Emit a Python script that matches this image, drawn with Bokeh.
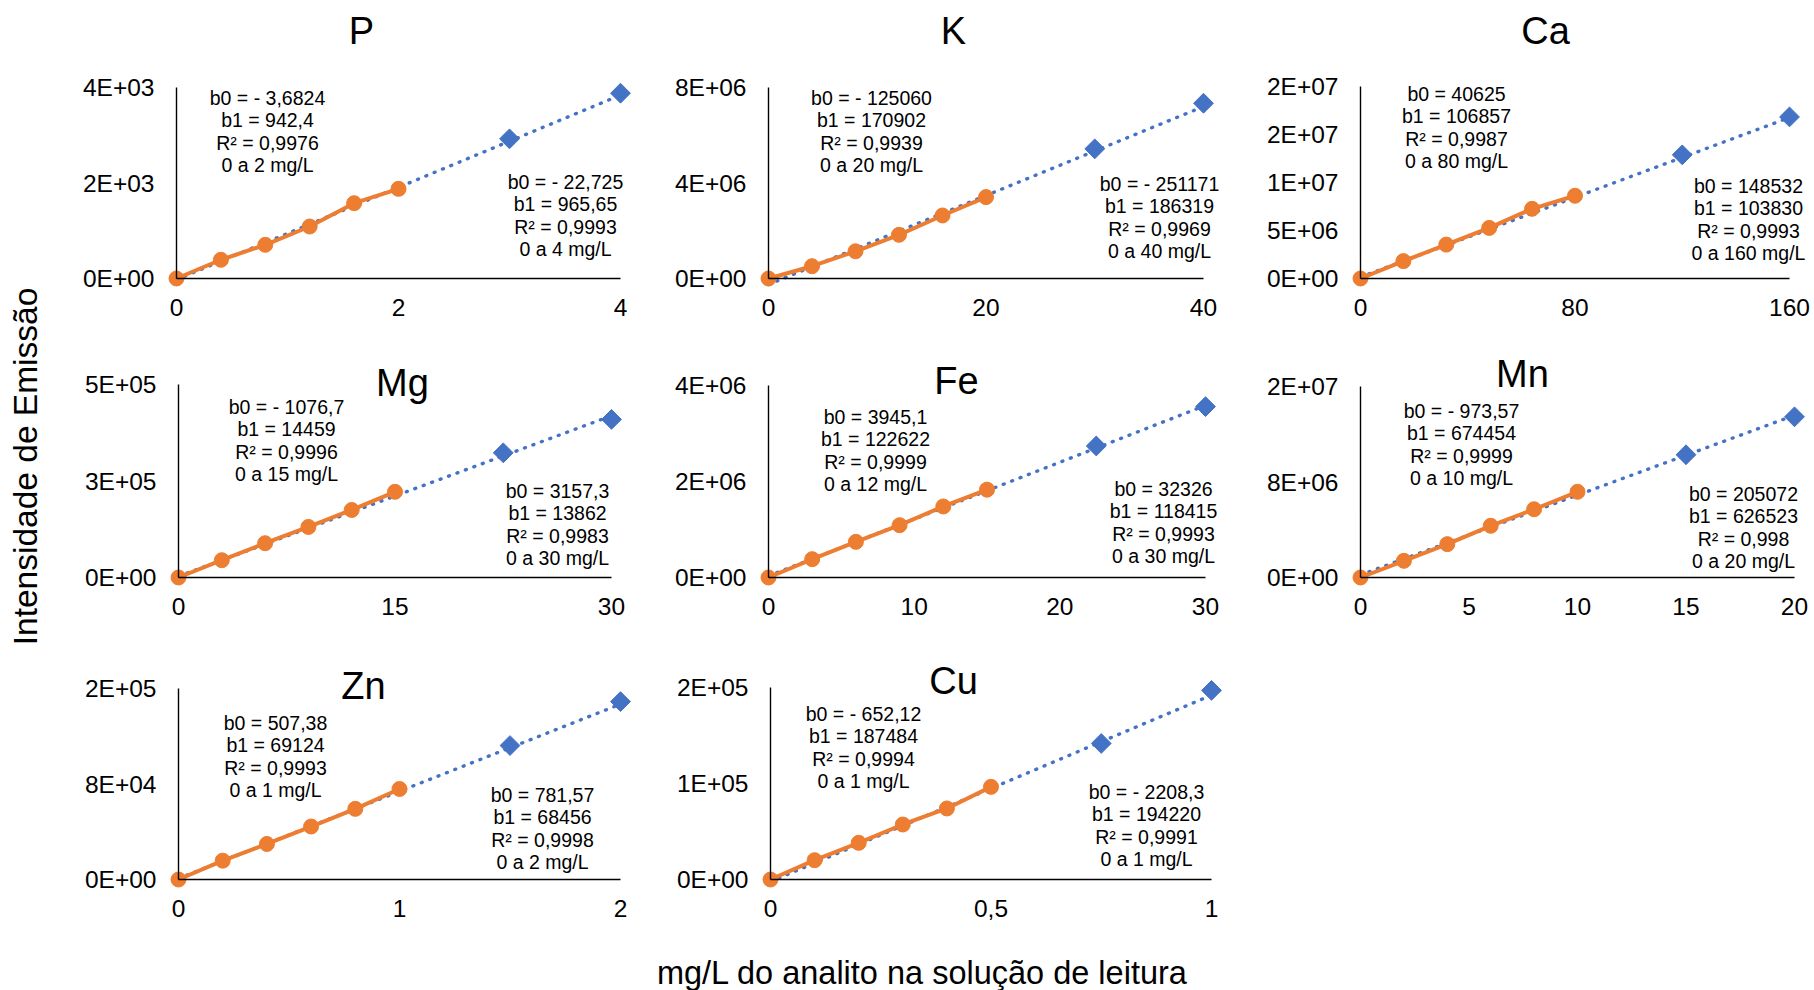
import math
from bokeh.plotting import figure
from bokeh.models import Range1d, FixedTicker, Label
from bokeh.layouts import row, column
from bokeh.embed import file_html
from bokeh.resources import INLINE

# ------------------------------------------------------------------ data
P_x = [0, 0.4, 0.8, 1.2, 1.6, 2.0]
P_y = [0, 392, 706, 1089, 1577, 1878]
P_x_ext = [3, 4]
P_y_ext = [2925, 3880]
P_b0 = [-3.6824, -22.725]
P_b1 = [942.4, 965.65]
P_r2 = ["0,9976", "0,9993"]
P_range = ["0 a 2 mg/L", "0 a 4 mg/L"]
P_xticks = [0, 2, 4]
P_xlabels = ["0", "2", "4"]
P_yticks = [0, 2000, 4000]
P_ylabels = ["0E+00", "2E+03", "4E+03"]

K_x = [0, 4, 8, 12, 16, 20]
K_y = [0, 515000, 1140000, 1830000, 2640000, 3410000]
K_x_ext = [30, 40]
K_y_ext = [5430000, 7340000]
K_b0 = [-125060, -251171]
K_b1 = [170902, 186319]
K_r2 = ["0,9939", "0,9969"]
K_range = ["0 a 20 mg/L", "0 a 40 mg/L"]
K_xticks = [0, 20, 40]
K_xlabels = ["0", "20", "40"]
K_yticks = [0, 4000000, 8000000]
K_ylabels = ["0E+00", "4E+06", "8E+06"]

Ca_x = [0, 16, 32, 48, 64, 80]
Ca_y = [0, 1810000, 3530000, 5270000, 7260000, 8620000]
Ca_x_ext = [120, 160]
Ca_y_ext = [12880000, 16830000]
Ca_b0 = [40625, 148532]
Ca_b1 = [106857, 103830]
Ca_r2 = ["0,9987", "0,9993"]
Ca_range = ["0 a 80 mg/L", "0 a 160 mg/L"]
Ca_xticks = [0, 80, 160]
Ca_xlabels = ["0", "80", "160"]
Ca_yticks = [0, 5000000, 10000000, 15000000, 20000000]
Ca_ylabels = ["0E+00", "5E+06", "1E+07", "2E+07", "2E+07"]

Mg_x = [0, 3, 6, 9, 12, 15]
Mg_y = [0, 44800, 88800, 131000, 175000, 222000]
Mg_x_ext = [22.5, 30]
Mg_y_ext = [323000, 409600]
Mg_b0 = [-1076.7, 3157.3]
Mg_b1 = [14459, 13862]
Mg_r2 = ["0,9996", "0,9983"]
Mg_range = ["0 a 15 mg/L", "0 a 30 mg/L"]
Mg_xticks = [0, 15, 30]
Mg_xlabels = ["0", "15", "30"]
Mg_yticks = [0, 250000, 500000]
Mg_ylabels = ["0E+00", "3E+05", "5E+05"]

Fe_x = [0, 3, 6, 9, 12, 15]
Fe_y = [0, 382000, 743000, 1090000, 1480000, 1830000]
Fe_x_ext = [22.5, 30]
Fe_y_ext = [2740000, 3560000]
Fe_b0 = [3945.1, 32326]
Fe_b1 = [122622, 118415]
Fe_r2 = ["0,9999", "0,9993"]
Fe_range = ["0 a 12 mg/L", "0 a 30 mg/L"]
Fe_xticks = [0, 10, 20, 30]
Fe_xlabels = ["0", "10", "20", "30"]
Fe_yticks = [0, 2000000, 4000000]
Fe_ylabels = ["0E+00", "2E+06", "4E+06"]

Mn_x = [0, 2, 4, 6, 8, 10]
Mn_y = [0, 1310000, 2620000, 4060000, 5360000, 6730000]
Mn_x_ext = [15, 20]
Mn_y_ext = [9640000, 12620000]
Mn_b0 = [-973.57, 205072]
Mn_b1 = [674454, 626523]
Mn_r2 = ["0,9999", "0,998"]
Mn_range = ["0 a 10 mg/L", "0 a 20 mg/L"]
Mn_xticks = [0, 5, 10, 15, 20]
Mn_xlabels = ["0", "5", "10", "15", "20"]
Mn_yticks = [0, 7500000, 15000000]
Mn_ylabels = ["0E+00", "8E+06", "2E+07"]

Zn_x = [0, 0.2, 0.4, 0.6, 0.8, 1.0]
Zn_y = [0, 14800, 27900, 41600, 55500, 71100]
Zn_x_ext = [1.5, 2]
Zn_y_ext = [105200, 139700]
Zn_b0 = [507.38, 781.57]
Zn_b1 = [69124, 68456]
Zn_r2 = ["0,9993", "0,9998"]
Zn_range = ["0 a 1 mg/L", "0 a 2 mg/L"]
Zn_xticks = [0, 1, 2]
Zn_xlabels = ["0", "1", "2"]
Zn_yticks = [0, 75000, 150000]
Zn_ylabels = ["0E+00", "8E+04", "2E+05"]

Cu_x = [0, 0.1, 0.2, 0.3, 0.4, 0.5]
Cu_y = [0, 20100, 38200, 57300, 74000, 96500]
Cu_x_ext = [0.75, 1]
Cu_y_ext = [141700, 197000]
Cu_b0 = [-652.12, -2208.3]
Cu_b1 = [187484, 194220]
Cu_r2 = ["0,9994", "0,9991"]
Cu_range = ["0 a 1 mg/L", "0 a 1 mg/L"]
Cu_xticks = [0, 0.5, 1]
Cu_xlabels = ["0", "0,5", "1"]
Cu_yticks = [0, 100000, 200000]
Cu_ylabels = ["0E+00", "1E+05", "2E+05"]

Y_TITLE = "Intensidade de Emissão"
X_TITLE = "mg/L do analito na solução de leitura"

# ------------------------------------------------------------------ layout / style
FONT = "Liberation Sans"
ORANGE = "#ED7D31"
BLUE = "#4472C4"
LEFT_W = 45
COLS = [(45, 650), (650, 1240), (1240, 1814)]
ROWS = [(0, 340), (340, 645), (645, 990)]
# axis origin x, origin y, x-axis end, y-axis top (pixels)
GEOM = {
    "P": (176, 278, 620, 87), "K": (768, 278, 1203, 87), "Ca": (1360, 278, 1789, 86),
    "Mg": (178, 577, 611, 384), "Fe": (768, 577, 1205, 385), "Mn": (1360, 577, 1794, 386),
    "Zn": (178, 879, 620, 688), "Cu": (770, 879, 1211, 687),
}
TITLE_POS = {
    "P": (361, 30), "K": (953, 30), "Ca": (1545, 30),
    "Mg": (402, 382), "Fe": (956, 380), "Mn": (1522, 373),
    "Zn": (363, 685), "Cu": (953, 680),
}
ANN_POS = {  # (cx, first line y) for the low range and full range blocks
    "P": [(267, 97), (565, 181)], "K": [(871, 97), (1159, 183)], "Ca": [(1456, 93), (1748, 185)],
    "Mg": [(286, 406), (557, 490)], "Fe": [(875, 416), (1163, 488)], "Mn": [(1461, 410), (1743, 493)],
    "Zn": [(275, 722), (542, 794)], "Cu": [(863, 713), (1146, 791)],
}
LINE_SP = 22.6


def fmt(v):
    s = str(abs(v)).replace(".", ",")
    return ("- " + s) if v < 0 else s


def make_panel(name, ci, ri, x, y, xe, ye, b0, b1, r2, rng, xt, xl, yt, yl):
    ox, oy, xend, ytop = GEOM[name]
    c0, c1 = COLS[ci]
    r0, r1 = ROWS[ri]
    W = xend - ox
    H = oy - ytop
    xmax = xt[-1]
    ymax = yt[-1]
    p = figure(
        frame_width=c1 - c0, frame_height=r1 - r0, min_border=0,
        x_range=Range1d(-(ox - c0) * xmax / W, xmax + (c1 - xend) * xmax / W),
        y_range=Range1d(-(r1 - oy) * ymax / H, ymax + (ytop - r0) * ymax / H),
        toolbar_location=None, output_backend="svg",
        background_fill_color="white", border_fill_color="white",
    )
    p.outline_line_color = None
    p.grid.visible = False
    for ax, ticks, labels, bnd in ((p.xaxis[0], xt, xl, (0, xmax)), (p.yaxis[0], yt, yl, (0, ymax))):
        ax.fixed_location = 0
        ax.bounds = bnd
        ax.ticker = FixedTicker(ticks=ticks)
        ax.major_label_overrides = {t: s for t, s in zip(ticks, labels)}
        ax.major_tick_line_color = None
        ax.minor_tick_line_color = None
        ax.major_tick_out = 0
        ax.major_tick_in = 0
        ax.axis_line_color = "black"
        ax.major_label_text_font = FONT
        ax.major_label_text_font_size = "24.5px"
        ax.major_label_text_color = "black"
    p.xaxis.axis_line_width = 1.7
    p.yaxis.axis_line_width = 1.4
    p.xaxis.major_label_standoff = 20
    p.yaxis.major_label_standoff = 22

    # full-range linear fit (dotted)
    p.line([0, xmax], [b0[1], b0[1] + b1[1] * xmax], line_color=BLUE, line_width=3.4,
           line_dash="1 8", line_cap="round")
    p.line(x, y, line_color=ORANGE, line_width=4)
    p.scatter(x, y, size=15, color=ORANGE)
    p.scatter(xe, ye, marker="square", angle=math.pi / 4, size=14, color=BLUE)

    def lab(ax_, ay_, text, size, **kw):
        p.add_layout(Label(x=ax_ - c0, y=r1 - ay_, x_units="screen", y_units="screen",
                           text=text, text_font=FONT, text_font_size=size,
                           text_color="black", text_align="center",
                           text_baseline="middle", **kw))

    tx, ty = TITLE_POS[name]
    lab(tx, ty, name, "38px")
    for k in range(2):
        cx, y1 = ANN_POS[name][k]
        lines = [f"b0 = {fmt(b0[k])}", f"b1 = {fmt(b1[k])}", f"R² = {r2[k]}", rng[k]]
        for i, t in enumerate(lines):
            lab(cx, y1 + i * LINE_SP, t, "19.5px")
    return p, lab


pP, _ = make_panel("P", 0, 0, P_x, P_y, P_x_ext, P_y_ext, P_b0, P_b1, P_r2, P_range,
                   P_xticks, P_xlabels, P_yticks, P_ylabels)
pK, _ = make_panel("K", 1, 0, K_x, K_y, K_x_ext, K_y_ext, K_b0, K_b1, K_r2, K_range,
                   K_xticks, K_xlabels, K_yticks, K_ylabels)
pCa, _ = make_panel("Ca", 2, 0, Ca_x, Ca_y, Ca_x_ext, Ca_y_ext, Ca_b0, Ca_b1, Ca_r2, Ca_range,
                    Ca_xticks, Ca_xlabels, Ca_yticks, Ca_ylabels)
pMg, _ = make_panel("Mg", 0, 1, Mg_x, Mg_y, Mg_x_ext, Mg_y_ext, Mg_b0, Mg_b1, Mg_r2, Mg_range,
                    Mg_xticks, Mg_xlabels, Mg_yticks, Mg_ylabels)
pFe, _ = make_panel("Fe", 1, 1, Fe_x, Fe_y, Fe_x_ext, Fe_y_ext, Fe_b0, Fe_b1, Fe_r2, Fe_range,
                    Fe_xticks, Fe_xlabels, Fe_yticks, Fe_ylabels)
pMn, _ = make_panel("Mn", 2, 1, Mn_x, Mn_y, Mn_x_ext, Mn_y_ext, Mn_b0, Mn_b1, Mn_r2, Mn_range,
                    Mn_xticks, Mn_xlabels, Mn_yticks, Mn_ylabels)
pZn, _ = make_panel("Zn", 0, 2, Zn_x, Zn_y, Zn_x_ext, Zn_y_ext, Zn_b0, Zn_b1, Zn_r2, Zn_range,
                    Zn_xticks, Zn_xlabels, Zn_yticks, Zn_ylabels)
pCu, labCu = make_panel("Cu", 1, 2, Cu_x, Cu_y, Cu_x_ext, Cu_y_ext, Cu_b0, Cu_b1, Cu_r2, Cu_range,
                        Cu_xticks, Cu_xlabels, Cu_yticks, Cu_ylabels)
labCu(922, 972, X_TITLE, "32.5px")

# left strip with the shared y-axis title
pY = figure(frame_width=LEFT_W, frame_height=990, min_border=0,
            x_axis_type=None, y_axis_type=None, toolbar_location=None,
            output_backend="svg", x_range=Range1d(0, 1), y_range=Range1d(0, 1))
pY.outline_line_color = None
pY.grid.visible = False
pY.add_layout(Label(x=25, y=990 - 466, x_units="screen", y_units="screen", text=Y_TITLE,
                    angle=math.pi / 2, text_font=FONT, text_font_size="33.5px",
                    text_color="black", text_align="center", text_baseline="middle"))

layout = row(pY, column(row(pP, pK, pCa), row(pMg, pFe, pMn), row(pZn, pCu)))

open("out.html", "w").write(file_html(layout, INLINE))
